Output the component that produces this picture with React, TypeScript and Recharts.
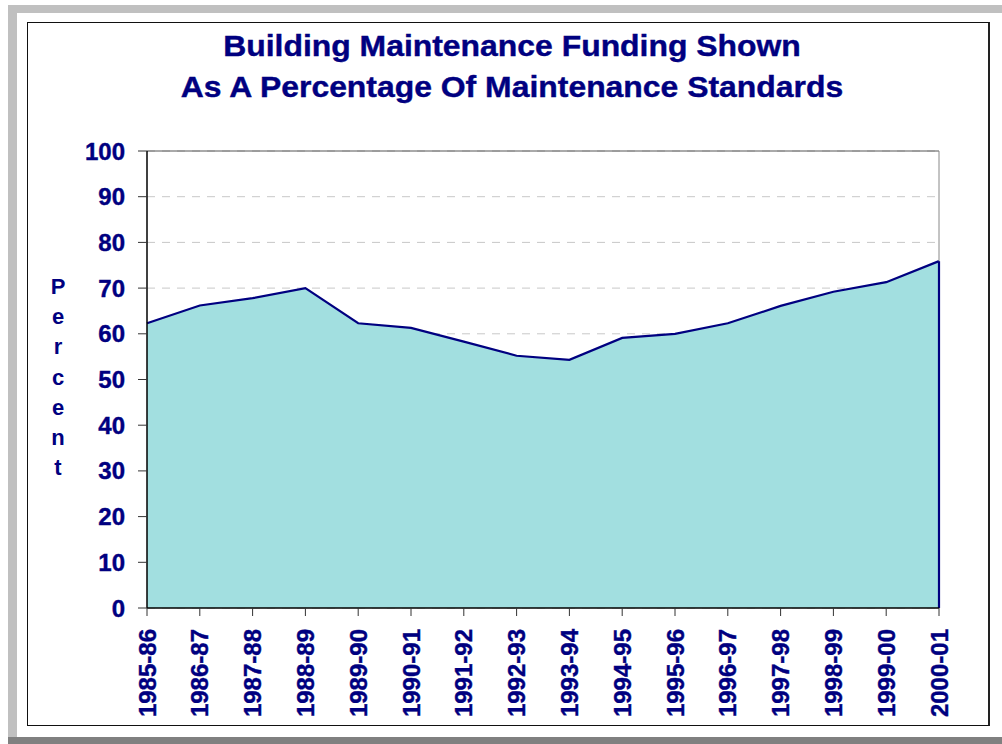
import { AreaChart, Area, XAxis, YAxis, CartesianGrid, ReferenceLine } from 'recharts';

const years = [
  '1985-86', '1986-87', '1987-88', '1988-89', '1989-90', '1990-91', '1991-92', '1992-93',
  '1993-94', '1994-95', '1995-96', '1996-97', '1997-98', '1998-99', '1999-00', '2000-01',
];
const percent = [62.3, 66.2, 67.8, 70, 62.3, 61.3, 58.3, 55.2, 54.3, 59.1, 60, 62.3, 66.1, 69.2, 71.3, 75.9];
const yTicks = [0, 10, 20, 30, 40, 50, 60, 70, 80, 90, 100];
const titleLines = ['Building Maintenance Funding Shown', 'As A Percentage Of Maintenance Standards'];
const axisLabel = 'Percent';

const navy = '#000080';
const font = '"Liberation Sans", Arial, sans-serif';

const chartData = years.map((year, i) => ({ year, value: percent[i] }));

function XTick(props: any) {
  const { x, y, payload } = props;
  return (
    <g transform={`translate(${x},${y}) rotate(-90)`}>
      <text
        x={-11}
        y={0}
        dy="0.36em"
        textAnchor="end"
        fill={navy}
        fontSize={24}
        fontWeight="bold"
        fontFamily={font}
        stroke={navy}
        strokeWidth={0.4}
      >
        {payload.value}
      </text>
    </g>
  );
}

export default function App() {
  return (
    <div style={{ position: 'absolute', left: 0, top: 0, width: 1002, height: 744, background: '#fff', overflow: 'hidden' }}>
      {/* window frame */}
      <div style={{ position: 'absolute', left: 8, top: 5, width: 994, height: 8, background: '#c0c0c0' }} />
      <div style={{ position: 'absolute', left: 8, top: 5, width: 9, height: 732, background: '#c0c0c0' }} />
      <div style={{ position: 'absolute', left: 8, top: 737, width: 994, height: 7, background: '#808080' }} />
      <div
        style={{
          position: 'absolute',
          left: 27,
          top: 22,
          width: 960,
          height: 702,
          borderTop: '1px solid #111',
          borderLeft: '1px solid #111',
          borderBottom: '1px solid #111',
          borderRight: '2px solid #222',
        }}
      />

      {/* title */}
      <div
        style={{
          position: 'absolute',
          left: 31,
          top: 26,
          width: 962,
          textAlign: 'center',
          color: navy,
          fontFamily: font,
          fontWeight: 'bold',
          fontSize: 29,
          lineHeight: '41px',
          transform: 'scaleX(1.1)',
          WebkitTextStroke: '0.4px #000080',
        }}
      >
        {titleLines.map((t) => (
          <div key={t}>{t}</div>
        ))}
      </div>

      {/* vertical axis title, one letter per line */}
      <div
        style={{
          position: 'absolute',
          left: 43,
          top: 272,
          width: 30,
          textAlign: 'center',
          color: navy,
          fontFamily: font,
          fontWeight: 'bold',
          fontSize: 22,
          lineHeight: '30.2px',
        }}
      >
        {axisLabel.split('').map((c, i) => (
          <div key={i}>{c}</div>
        ))}
      </div>

      <div style={{ position: 'absolute', left: 0, top: 0 }}>
        <AreaChart
          width={1002}
          height={744}
          data={chartData}
          margin={{ top: 151, right: 63, bottom: 16, left: 87 }}
        >
          <CartesianGrid vertical={false} stroke="#c8c8c8" strokeDasharray="8 7" />
          <XAxis
            dataKey="year"
            interval={0}
            height={120}
            tickSize={8}
            tickMargin={2}
            tick={<XTick />}
            axisLine={{ stroke: '#000', strokeWidth: 1.5 }}
            tickLine={{ stroke: '#333' }}
          />
          <YAxis
            domain={[0, 100]}
            ticks={yTicks}
            width={60}
            tickSize={9}
            tickMargin={13}
            axisLine={{ stroke: '#000', strokeWidth: 1.5 }}
            tickLine={{ stroke: '#333' }}
            tick={{ fill: navy, fontSize: 24, fontWeight: 'bold', fontFamily: font, stroke: navy, strokeWidth: 0.4 }}
          />
          <ReferenceLine y={100} stroke="#555" />
          <ReferenceLine x="2000-01" stroke="#888" />
          <Area
            type="linear"
            dataKey="value"
            stroke={navy}
            strokeWidth={2.2}
            fill="#a2dfe0"
            fillOpacity={1}
            dot={false}
            activeDot={false}
            isAnimationActive={false}
          />
          <ReferenceLine
            segment={[
              { x: '2000-01', y: 0 },
              { x: '2000-01', y: percent[percent.length - 1] },
            ]}
            stroke={navy}
            strokeWidth={2.2}
          />
        </AreaChart>
      </div>
    </div>
  );
}
